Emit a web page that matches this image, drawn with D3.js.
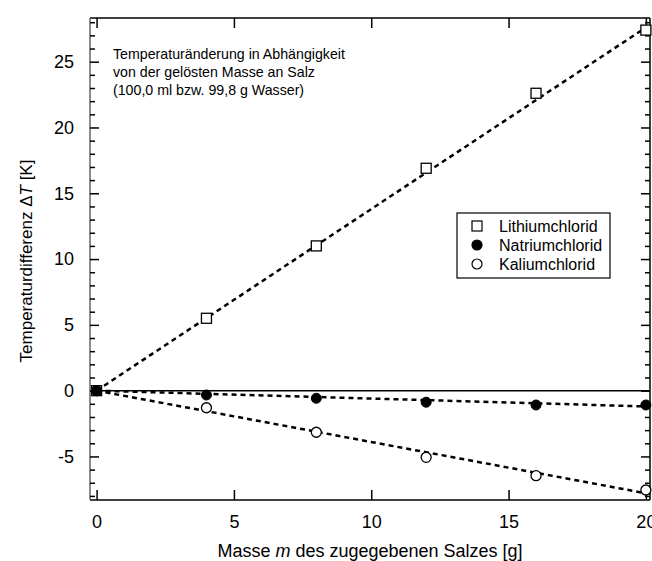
<!DOCTYPE html>
<html><head><meta charset="utf-8">
<script src="https://cdn.jsdelivr.net/npm/d3@7"></script>
<style>body{margin:0;background:#fff}svg{display:block}text{font-family:"Liberation Sans",Arial,sans-serif;fill:#000}</style>
</head><body><svg id="c" width="652" height="561"></svg>
<script>
const masses = [0, 4, 8, 12, 16, 20];
const lithium = [0, 5.5, 11.0, 16.9, 22.6, 27.4];
const natrium = [0, -0.33, -0.58, -0.88, -1.09, -1.09];
const kalium = [0, -1.3, -3.16, -5.07, -6.46, -7.55];
const fitSlopes = {Li: 1.38, Na: -0.06, K: -0.39};
const xTicks = [0, 5, 10, 15, 20];
const yTicks = [-5, 0, 5, 10, 15, 20, 25];
const yMinor = d3.range(-8, 29, 1);
const legendNames = ["Lithiumchlorid", "Natriumchlorid", "Kaliumchlorid"];
const noteLines = ["Temperaturänderung in Abhängigkeit", "von der gelösten Masse an Salz", "(100,0 ml bzw. 99,8 g Wasser)"];

const L = 90, R = 650, T = 18, B = 500;
const x = d3.scaleLinear().domain([-0.24, 20.15]).range([L, R]);
const y = d3.scaleLinear().domain([-8.31, 28.32]).range([B, T]);
const svg = d3.select("#c");
const fmt = d => String(d);

// zero line
svg.append("line").attr("x1", L).attr("x2", R).attr("y1", y(0)).attr("y2", y(0)).attr("stroke", "#000").attr("stroke-width", 1.5);

// fit lines
const fits = [fitSlopes.Li, fitSlopes.Na, fitSlopes.K];
fits.forEach(s => {
  svg.append("line").attr("x1", x(0)).attr("y1", y(0)).attr("x2", x(20)).attr("y2", y(20 * s))
    .attr("stroke", "#000").attr("stroke-width", 2.5).attr("stroke-dasharray", "5,4");
});

// axes frame
svg.append("line").attr("x1", L).attr("x2", R).attr("y1", T).attr("y2", T).attr("stroke", "#000").attr("stroke-width", 1.5);
svg.append("line").attr("x1", L).attr("x2", R).attr("y1", B).attr("y2", B).attr("stroke", "#000").attr("stroke-width", 1.5);
svg.append("line").attr("x1", R).attr("x2", R).attr("y1", T).attr("y2", B).attr("stroke", "#000").attr("stroke-width", 1.5);
svg.append("line").attr("x1", L).attr("x2", L).attr("y1", T).attr("y2", B).attr("stroke", "#666").attr("stroke-width", 1.5);

// x ticks bottom & top
const xb = d3.axisBottom(x).tickValues(xTicks).tickSize(-10).tickPadding(15).tickFormat(fmt);
const gxb = svg.append("g").attr("transform", `translate(0,${B})`).call(xb);
const xt = d3.axisTop(x).tickValues(xTicks).tickSize(-10).tickFormat("");
const gxt = svg.append("g").attr("transform", `translate(0,${T})`).call(xt);
[gxb, gxt].forEach(g => { g.select(".domain").remove(); g.selectAll("line").attr("stroke", "#000").attr("stroke-width", 1.5); });
gxb.selectAll("text").attr("font-size", 18).attr("font-family", "Liberation Sans, Arial, sans-serif");

// y ticks left & right
function yAxisSide(side) {
  const isLeft = side === "left";
  const gen = isLeft ? d3.axisLeft(y) : d3.axisRight(y);
  const gMinor = svg.append("g").attr("transform", `translate(${isLeft ? L : R},0)`)
    .call(gen.tickValues(yMinor.filter(v => !yTicks.includes(v))).tickSize(-5).tickFormat(""));
  const gen2 = isLeft ? d3.axisLeft(y) : d3.axisRight(y);
  const gMajor = svg.append("g").attr("transform", `translate(${isLeft ? L : R},0)`)
    .call(gen2.tickValues(yTicks).tickSize(-9).tickPadding(16).tickFormat(isLeft ? fmt : ""));
  [gMinor, gMajor].forEach(g => { g.select(".domain").remove(); g.selectAll("line").attr("stroke", "#000").attr("stroke-width", 1.5); });
  gMajor.selectAll("text").attr("font-size", 18).attr("font-family", "Liberation Sans, Arial, sans-serif");
}
yAxisSide("left");
yAxisSide("right");

// markers
const sq = 10, rr = 5;
masses.forEach((m, i) => {
  svg.append("rect").attr("x", x(m) - sq / 2).attr("y", y(lithium[i]) - sq / 2).attr("width", sq).attr("height", sq)
    .attr("fill", "#fff").attr("stroke", "#000").attr("stroke-width", 1.3);
});
masses.forEach((m, i) => {
  svg.append("circle").attr("cx", x(m)).attr("cy", y(kalium[i])).attr("r", rr)
    .attr("fill", "#fff").attr("stroke", "#000").attr("stroke-width", 1.3);
});
masses.forEach((m, i) => {
  svg.append("circle").attr("cx", x(m)).attr("cy", y(natrium[i])).attr("r", rr)
    .attr("fill", "#000").attr("stroke", "#000").attr("stroke-width", 1);
});

// annotation
const note = svg.append("text").attr("x", 113).attr("y", 59).attr("font-size", 14.2);
noteLines.forEach((t, i) => note.append("tspan").attr("x", 113).attr("dy", i === 0 ? 0 : 18).text(t));

// legend
svg.append("rect").attr("x", 457).attr("y", 213).attr("width", 153).attr("height", 65)
  .attr("fill", "#fff").attr("stroke", "#000").attr("stroke-width", 1.2);
legendNames.forEach((n, i) => {
  const cy = 226 + i * 19;
  if (i === 0) svg.append("rect").attr("x", 477 - 5).attr("y", cy - 5).attr("width", 10).attr("height", 10).attr("fill", "#fff").attr("stroke", "#000").attr("stroke-width", 1.2);
  else svg.append("circle").attr("cx", 477).attr("cy", cy).attr("r", 5).attr("fill", i === 1 ? "#000" : "#fff").attr("stroke", "#000").attr("stroke-width", 1.2);
  svg.append("text").attr("x", 499).attr("y", cy + 5.5).attr("font-size", 16).text(n);
});

// axis titles
const xt2 = svg.append("text").attr("x", 370).attr("y", 557).attr("text-anchor", "middle").attr("font-size", 18);
xt2.append("tspan").text("Masse ");
xt2.append("tspan").attr("font-style", "italic").text("m");
xt2.append("tspan").text(" des zugegebenen Salzes [g]");

const yt = svg.append("text").attr("transform", "translate(32,261) rotate(-90)").attr("text-anchor", "middle").attr("font-size", 17);
yt.append("tspan").text("Temperaturdifferenz Δ");
yt.append("tspan").attr("font-style", "italic").text("T");
yt.append("tspan").text(" [K]");
</script></body></html>
